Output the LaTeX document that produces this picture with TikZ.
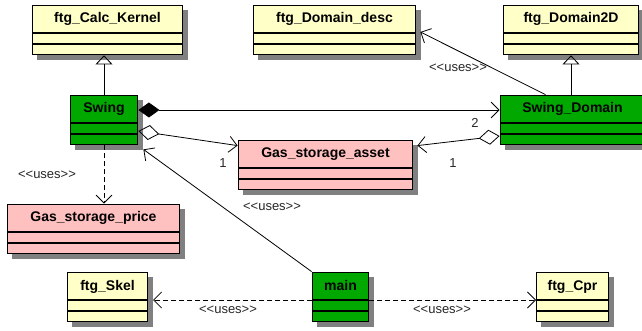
\documentclass[tikz,border=0pt]{standalone}
\usepackage{fontspec}
\setmainfont{Liberation Sans}
\usetikzlibrary{shapes}
\usetikzlibrary{arrows.meta,backgrounds,positioning,fit}

\definecolor{classyellow}{RGB}{255,255,200}
\definecolor{classpink}{RGB}{255,192,192}
\definecolor{classgreen}{RGB}{0,168,0}
\definecolor{shadowgray}{RGB}{128,128,128}

\tikzset{
  classtitle/.style={draw, line width=1pt, inner sep=0pt, minimum height=27pt,
    text height=12pt, text depth=4pt, font=\bfseries\fontsize{14}{16}\selectfont},
  classpart/.style={draw, line width=1pt, inner sep=0pt, minimum height=10pt},
  umllabel/.style={inner sep=0pt, text=black!85, font=\fontsize{13}{15}\selectfont},
  usesline/.style={dash pattern=on 5pt off 3pt}
}

% name, top left, width, colour, title
\newcommand{\umlclass}[5]{
  \node [classtitle, fill=#4, minimum width=#3, anchor=north west] (#1-t) at (#2) {#5};
  \node [classpart, fill=#4, minimum width=#3, anchor=north] (#1-a) at (#1-t.south) {};
  \node [classpart, fill=#4, minimum width=#3, anchor=north] (#1-b) at (#1-a.south) {};
  \node [fit=(#1-t)(#1-b), inner sep=0pt] (#1) {};
  \begin{scope}[on background layer]
    \fill [shadowgray] ([shift={(5,5)}]#1.north west) rectangle ([shift={(5,5)}]#1.south east);
  \end{scope}
}
\newcommand{\stereo}{<\kern0pt<uses>\kern0pt>}

\begin{document}
\begin{tikzpicture}
      [x=1pt, y=-1pt, line width=0.8pt, >={Straight Barb[length=8pt,width=16pt]}]
      \useasboundingbox (0,0) rectangle (642,331);

      \umlclass{calc}{32,5}{150pt}{classyellow}{ftg\_Calc\_Kernel}
      \umlclass{desc}{253,5}{162pt}{classyellow}{ftg\_Domain\_desc}
      \umlclass{dtwo}{503,5}{135pt}{classyellow}{ftg\_Domain2D}
      \umlclass{swing}{70,95}{67pt}{classgreen}{Swing}
      \umlclass{sdom}{500,95}{144pt}{classgreen}{Swing\_Domain}
      \umlclass{asset}{238,140}{174pt}{classpink}{Gas\_storage\_asset}
      \umlclass{price}{7,204}{172pt}{classpink}{Gas\_storage\_price}
      \umlclass{skel}{67,272}{80pt}{classyellow}{ftg\_Skel}
      \umlclass{main}{312,272}{56pt}{classgreen}{main}
      \umlclass{cpr}{536,272}{72pt}{classyellow}{ftg\_Cpr}

      \draw [-{Triangle[open,length=9pt,width=17pt]}] (swing.north) to (swing.north |- calc.south);
      \draw [-{Triangle[open,length=9pt,width=17pt]}] (dtwo.south |- sdom.north) to (dtwo.south);
      \draw [->] ([xshift=-27pt]sdom.north) to ([shift={(4pt,-2pt)}]desc.east);
      \draw [{Diamond[length=21pt,width=15pt]}->] ([yshift=10pt]swing.east) to ([yshift=10pt]sdom.west);
      \draw [{Diamond[open,length=21pt,width=15pt]}->] ([yshift=-11pt]swing.east) to ([yshift=-6pt]asset.north west);
      \draw [{Diamond[open,length=21pt,width=15pt]}->] ([yshift=-16pt]sdom.west) to ([shift={(4pt,-6pt)}]asset.north east);
      \draw [usesline, ->] (swing.south) to (swing.south |- price.north);
      \draw [->] (main.north west) to ([shift={(5pt,-4pt)}]swing.south east);
      \draw [usesline, ->] (main-t.south west) to ([xshift=5pt]skel-t.south east);
      \draw [usesline, ->] (main-t.south east) to (cpr-t.south west);

      \node [umllabel] (usesdesc)  at (458, 68) {\stereo};
      \node [umllabel] (usesprice) at ( 47,175) {\stereo};
      \node [umllabel] (usesmain)  at (272,207) {\stereo};
      \node [umllabel] (usesskel)  at (228,310) {\stereo};
      \node [umllabel] (usescpr)   at (442,310) {\stereo};
      \node [umllabel] (multswing) at (223,163) {1};
      \node [umllabel] (multasset) at (453,163) {1};
      \node [umllabel] (multsdom)  at (475,123) {2};
    \end{tikzpicture}
\end{document}
